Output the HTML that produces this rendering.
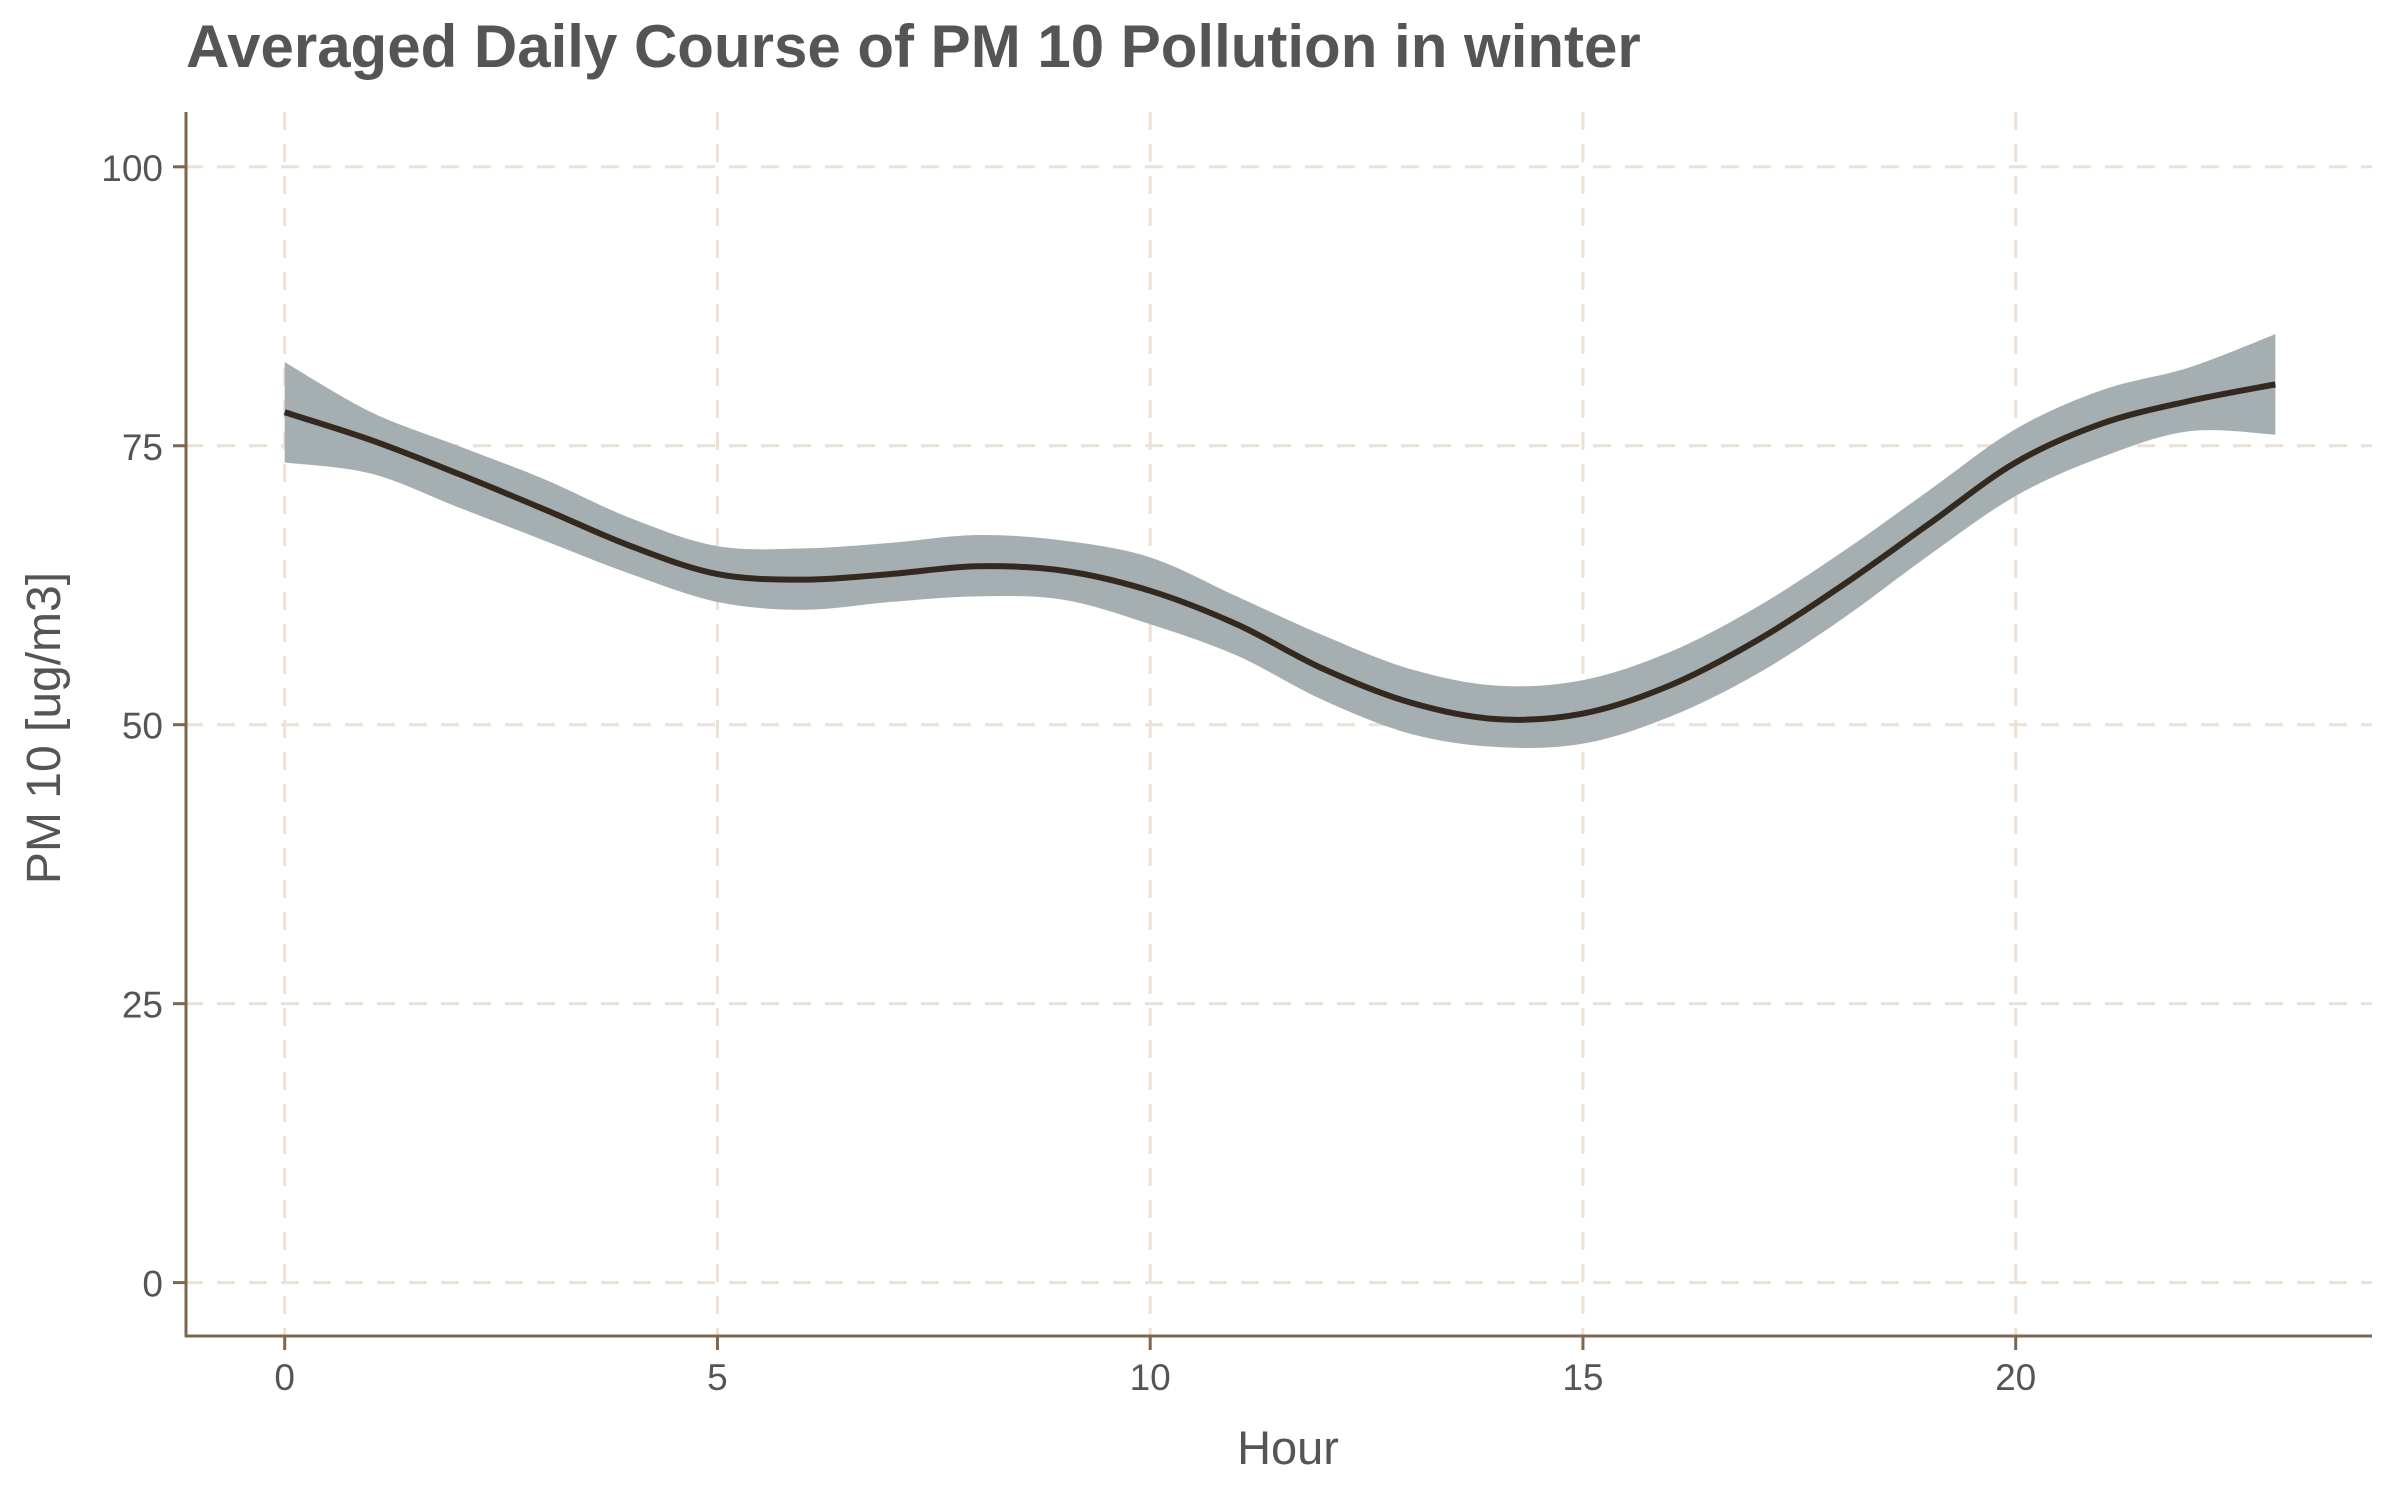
<!DOCTYPE html>
<html><head><meta charset="utf-8"><style>
html,body{margin:0;padding:0;background:#fff;}
svg text{font-family:"Liberation Sans",sans-serif;}
</style></head><body>
<svg id="chart" width="2400" height="1500" xmlns="http://www.w3.org/2000/svg">
<text x="186" y="67" font-size="60" font-weight="bold" fill="#555">Averaged Daily Course of PM 10 Pollution in winter</text>
<g id="grid"></g>
<g id="band"></g>
<g id="line"></g>
<g id="axes"></g>
<text x="1288" y="1464" font-size="47" fill="#555" text-anchor="middle">Hour</text>
<text transform="translate(60,728) rotate(-90)" font-size="48" fill="#555" text-anchor="middle">PM 10 [ug/m3]</text>
</svg>
<script>
const hours=[0,1,2,3,4,5,6,7,8,9,10,11,12,13,14,15,16,17,18,19,20,21,22,23];
const meanVals=[78,75.5,72.5,69.3,66,63.5,63,63.5,64.2,63.8,62,59,55,52,50.5,51,53.5,57.5,62.5,68,73.5,77,79,80.5];
const upperVals=[82.5,78,75,72,68.5,66,65.8,66.3,67,66.5,65,61.5,58,55,53.5,54,56.5,60.5,65.5,71,76.5,80,82,85];
const lowerVals=[73.5,72.5,69.5,66.5,63.5,61,60.3,61,61.5,61.2,59,56.2,52.2,49.2,48,48.3,50.7,54.5,59.5,65.2,70.5,74,76.3,76];
const xTicks=[0,5,10,15,20];
const yTicks=[0,25,50,75,100];
const NS="http://www.w3.org/2000/svg";
const xs=h=>284.7+h*86.55;
const ys=v=>1282.6-v*11.158;
function mk(t,a,p){const e=document.createElementNS(NS,t);for(const k in a)e.setAttribute(k,a[k]);p.appendChild(e);return e;}
function pathPts(pts){let d=`M${pts[0][0]},${pts[0][1]}`;for(let i=0;i<pts.length-1;i++){const p0=pts[i-1]||pts[i],p1=pts[i],p2=pts[i+1],p3=pts[i+2]||p2;
d+=` C${p1[0]+(p2[0]-p0[0])/6},${p1[1]+(p2[1]-p0[1])/6} ${p2[0]-(p3[0]-p1[0])/6},${p2[1]-(p3[1]-p1[1])/6} ${p2[0]},${p2[1]}`;}return d;}
const grid=document.getElementById('grid'),axes=document.getElementById('axes');
xTicks.forEach(t=>{const l=mk('line',{x1:xs(t),x2:xs(t),y1:112,y2:1336,stroke:'#ebe1d5','stroke-width':3,'stroke-dasharray':'18 14'},grid);


const tk=mk('line',{x1:xs(t),x2:xs(t),y1:1336,y2:1350,stroke:'#7e664f','stroke-width':3},axes);


const tx=mk('text',{x:xs(t),y:1390,'font-size':37,fill:'#555','text-anchor':'middle'},axes);tx.textContent=t;

});
yTicks.forEach(t=>{const l=mk('line',{x1:185,x2:2372,y1:ys(t),y2:ys(t),stroke:'#ebe1d5','stroke-width':3,'stroke-dasharray':'18 14'},grid);


const tk=mk('line',{x1:173,x2:186,y1:ys(t),y2:ys(t),stroke:'#7e664f','stroke-width':3},axes);


const tx=mk('text',{x:163,y:ys(t)+14,'font-size':37,fill:'#555','text-anchor':'end'},axes);tx.textContent=t;

});
const up=hours.map((h,i)=>[xs(h),ys(upperVals[i])]);
const lo=hours.map((h,i)=>[xs(h),ys(lowerVals[i])]).reverse();
let dUp=pathPts(up),dLo=pathPts(lo).replace(/^M/,' L');
const band=mk('path',{d:dUp+dLo+' Z',fill:'#a5aeb0'},document.getElementById('band'));


const ln=mk('path',{d:pathPts(hours.map((h,i)=>[xs(h),ys(meanVals[i])])),fill:'none',stroke:'#33291f','stroke-width':6},document.getElementById('line'));


const ya=mk('line',{x1:186,x2:186,y1:112,y2:1337,stroke:'#7e664f','stroke-width':3},axes);


const xa=mk('line',{x1:185,x2:2372,y1:1336,y2:1336,stroke:'#7e664f','stroke-width':3},axes);


</script>
</body></html>
